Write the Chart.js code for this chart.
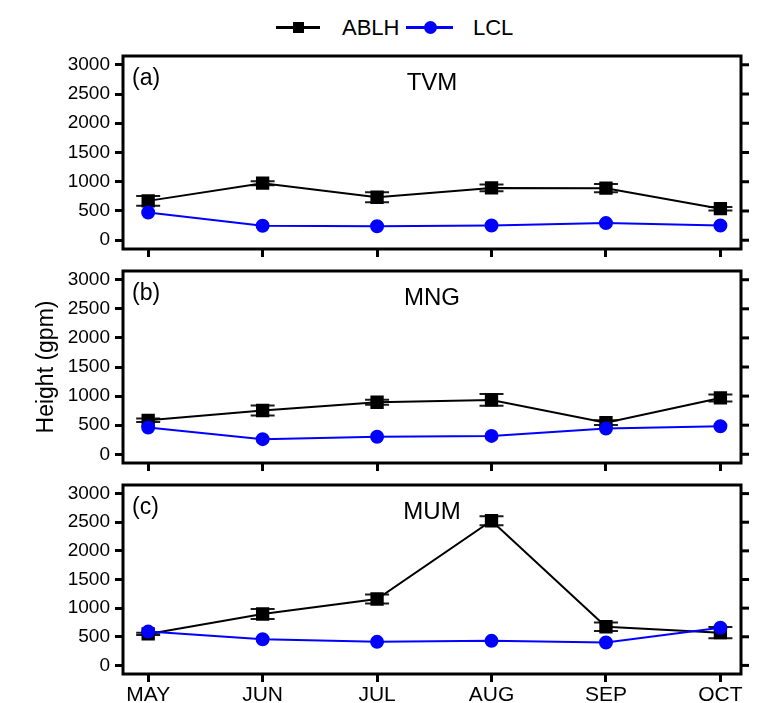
<!DOCTYPE html>
<html>
<head>
<meta charset="utf-8">
<script src="https://cdn.jsdelivr.net/npm/chart.js@4"></script>
<style>
  body { margin: 0; background: #fff; font-family: Arial, "Liberation Sans", sans-serif; }
  #wrap { position: relative; width: 767px; height: 703px; overflow: hidden; }
  .panel { position: absolute; left: 0; width: 767px; }
  .leg { position: absolute; font-size: 22px; color: #000; line-height: 1; }
  .line { position: absolute; height: 3px; }
</style>
</head>
<body>
<div id="wrap">
  <!-- legend -->
  <div class="line" style="left:276px; top:26px; width:44px; background:#000;"></div>
  <div style="position:absolute; left:293px; top:22px; width:11px; height:11px; background:#000;"></div>
  <div class="leg" style="left:342px; top:17px;">ABLH</div>
  <div class="line" style="left:406px; top:26px; width:47px; background:#0000ff;"></div>
  <div style="position:absolute; left:424px; top:21px; width:13px; height:13px; border-radius:50%; background:#0000ff;"></div>
  <div class="leg" style="left:473px; top:17px;">LCL</div>

  <div class="panel" style="top:45px; height:215px;"><canvas id="a"></canvas></div>
  <div class="panel" style="top:260px; height:215px;"><canvas id="b"></canvas></div>
  <div class="panel" style="top:475px; height:228px;"><canvas id="c"></canvas></div>
</div>
<script>
const months = ['MAY', 'JUN', 'JUL', 'AUG', 'SEP', 'OCT'];
const yTicks = [0, 500, 1000, 1500, 2000, 2500, 3000];

// TVM
const tvmAblh = [673, 975, 735, 895, 890, 540];
const tvmAblhErr = [85, 35, 85, 57, 70, 30];
const tvmLcl = [474, 247, 238, 253, 293, 253];
// MNG
const mngAblh = [583, 752, 894, 934, 543, 968];
const mngAblhErr = [30, 85, 42, 100, 42, 60];
const mngLcl = [459, 260, 300, 316, 441, 481];
// MUM
const mumAblh = [550, 898, 1160, 2526, 675, 572];
const mumAblhErr = [20, 86, 80, 77, 74, 97];
const mumLcl = [590, 457, 411, 429, 400, 658];

const FONT = 'Arial, "Liberation Sans", sans-serif';

// error bars under the markers
const errorBars = {
    id: 'errorBars',
    beforeDatasetsDraw(chart, args, opts) {
        const meta = chart.getDatasetMeta(0);
        const y = chart.scales.y;
        const ctx = chart.ctx;
        ctx.save();
        ctx.strokeStyle = '#1a1a1a';
        ctx.lineWidth = 2;
        meta.data.forEach((pt, i) => {
            const v = chart.data.datasets[0].data[i].y;
            const e = opts.err[i];
            const y1 = y.getPixelForValue(v + e);
            const y2 = y.getPixelForValue(v - e);
            ctx.beginPath();
            ctx.moveTo(pt.x, y1); ctx.lineTo(pt.x, y2);
            ctx.moveTo(pt.x - 12, y1); ctx.lineTo(pt.x + 12, y1);
            ctx.moveTo(pt.x - 12, y2); ctx.lineTo(pt.x + 12, y2);
            ctx.stroke();
        });
        ctx.restore();
    }
};

// box frame, right-hand ticks and panel texts
const frame = {
    id: 'frame',
    afterDraw(chart, args, opts) {
        const {left, right, top, bottom} = chart.chartArea;
        const ctx = chart.ctx;
        ctx.save();
        ctx.strokeStyle = '#000';
        ctx.lineWidth = 3;
        ctx.strokeRect(left, top, right - left, bottom - top);
        const y = chart.scales.y;
        y.ticks.forEach(t => {
            const py = y.getPixelForValue(t.value);
            ctx.beginPath();
            ctx.moveTo(right, py); ctx.lineTo(right + 8, py);
            ctx.stroke();
        });
        ctx.fillStyle = '#000';
        ctx.textBaseline = 'middle';
        ctx.font = '23px ' + FONT;
        ctx.textAlign = 'left';
        ctx.fillText(opts.tag, left + 9, top + 23);
        ctx.font = '24px ' + FONT;
        ctx.textAlign = 'center';
        ctx.fillText(opts.site, (left + right) / 2, top + 27);
        ctx.restore();
    }
};

function makePanel(id, ablh, err, lcl, tag, site, opt) {
    const cfg = {
        type: 'line',
        data: {
            datasets: [{
                label: 'ABLH',
                data: ablh.map((v, i) => ({x: i, y: v})),
                borderColor: '#000',
                backgroundColor: '#000',
                borderWidth: 2,
                pointStyle: 'rect',
                pointRadius: 8,
                order: 1
            }, {
                label: 'LCL',
                data: lcl.map((v, i) => ({x: i, y: v})),
                borderColor: '#0000ff',
                backgroundColor: '#0000ff',
                borderWidth: 2,
                pointStyle: 'circle',
                pointRadius: 6,
                order: 0
            }]
        },
        options: {
            responsive: true,
            maintainAspectRatio: false,
            animation: false,
            layout: {padding: {left: 0, right: 26, top: opt.padTop, bottom: 0}},
            plugins: {
                legend: {display: false},
                tooltip: {enabled: false},
                errorBars: {err: err},
                frame: {tag: tag, site: site}
            },
            scales: {
                x: {
                    type: 'linear',
                    min: -0.22,
                    max: 5.18,
                    border: {display: false},
                    grid: {drawOnChartArea: false, tickLength: 8, lineWidth: 3, color: '#000'},
                    ticks: {
                        display: opt.showX,
                        padding: 1,
                        color: '#000',
                        font: {family: FONT, size: 21},
                        callback: v => months[v]
                    },
                    afterBuildTicks: s => { s.ticks = months.map((m, i) => ({value: i})); },
                    afterFit: s => {
                        s.height = opt.xH;
                        s.paddingLeft = 0;
                        s.paddingRight = 0;
                    }
                },
                y: {
                    min: -150,
                    max: 3150,
                    border: {display: false},
                    grid: {drawOnChartArea: false, tickLength: 8, lineWidth: 3, color: '#000'},
                    ticks: {
                        padding: 5,
                        color: '#000',
                        font: {family: FONT, size: 19},
                        callback: v => String(v)
                    },
                    afterBuildTicks: s => { s.ticks = yTicks.map(v => ({value: v})); },
                    title: {
                        display: !!opt.yTitle,
                        text: opt.yTitle || '',
                        color: '#000',
                        font: {family: FONT, size: 23},
                        padding: {top: 33, bottom: 0}
                    },
                    afterFit: s => {
                        s.width = 123;
                        s.paddingTop = 0;
                        s.paddingBottom = 0;
                    }
                }
            }
        },
        plugins: [errorBars, frame]
    };
    return new Chart(document.getElementById(id), cfg);
}

makePanel('a', tvmAblh, tvmAblhErr, tvmLcl, '(a)', 'TVM', {padTop: 11, xH: 11, showX: false});
makePanel('b', mngAblh, mngAblhErr, mngLcl, '(b)', 'MNG', {padTop: 11, xH: 12, showX: false, yTitle: 'Height (gpm)'});
makePanel('c', mumAblh, mumAblhErr, mumLcl, '(c)', 'MUM', {padTop: 9, xH: 29, showX: true});
</script>
</body>
</html>
